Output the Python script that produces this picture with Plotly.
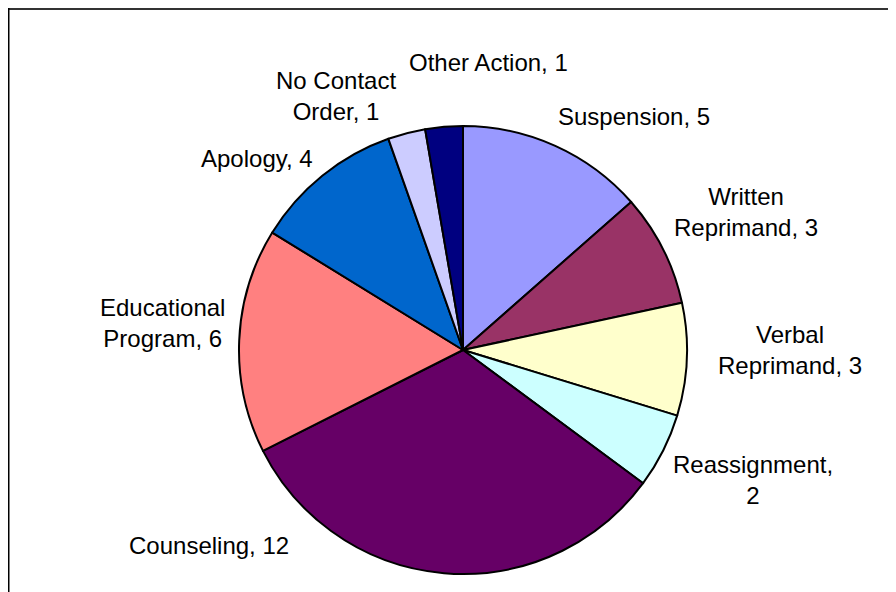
import plotly.graph_objects as go

W, H = 896, 592
OFF = 8  # page body margin offset

categories = ["Suspension", "Written Reprimand", "Verbal Reprimand", "Reassignment",
              "Counseling", "Educational Program", "Apology", "No Contact Order", "Other Action"]
values = [5, 3, 3, 2, 12, 6, 4, 1, 1]
label_texts = ["Suspension, 5", "Written<br>Reprimand, 3", "Verbal<br>Reprimand, 3",
               "Reassignment,<br>2", "Counseling, 12", "Educational<br>Program, 6",
               "Apology, 4", "No Contact<br>Order, 1", "Other Action, 1"]
colors = ["#9999FF", "#993366", "#FFFFCC", "#CCFFFF", "#660066",
          "#FF8080", "#0066CC", "#CCCCFF", "#000080"]

# label placement (pixel centers of the text blocks, screen coords)
label_pos = [(634, 116), (746, 212), (790, 350), (753, 480), (209, 545),
             (162, 323), (257, 158), (336, 96), (489, 62)]

cx, cy, r = 463 - OFF, 350 - OFF, 224

fig = go.Figure(go.Pie(
    labels=categories,
    values=values,
    sort=False,
    direction="clockwise",
    rotation=0,
    textinfo="none",
    hoverinfo="label+value",
    marker=dict(colors=colors, line=dict(color="black", width=2)),
    domain=dict(x=[(cx - r) / W, (cx + r) / W],
                y=[(H - cy - r) / H, (H - cy + r) / H]),
    showlegend=False,
))

for t, (px, py) in zip(label_texts, label_pos):
    fig.add_annotation(x=(px - OFF) / W, y=1 - (py - OFF) / H, xref="paper", yref="paper",
                       text=t, showarrow=False, xanchor="center", yanchor="middle",
                       align="center",
                       font=dict(family="Liberation Sans, Arial", size=24, color="black"))

# frame
fig.add_shape(type="line", xref="paper", yref="paper",
              x0=0, x1=1, y0=1 - 0.5 / H, y1=1 - 0.5 / H,
              line=dict(color="#333333", width=3))
fig.add_shape(type="line", xref="paper", yref="paper",
              x0=0.75 / W, x1=0.75 / W, y0=1, y1=0,
              line=dict(color="black", width=1.5))

fig.update_layout(
    width=W, height=H,
    margin=dict(l=0, r=0, t=0, b=0),
    paper_bgcolor="white", plot_bgcolor="white",
)

fig.write_html("out.html")
